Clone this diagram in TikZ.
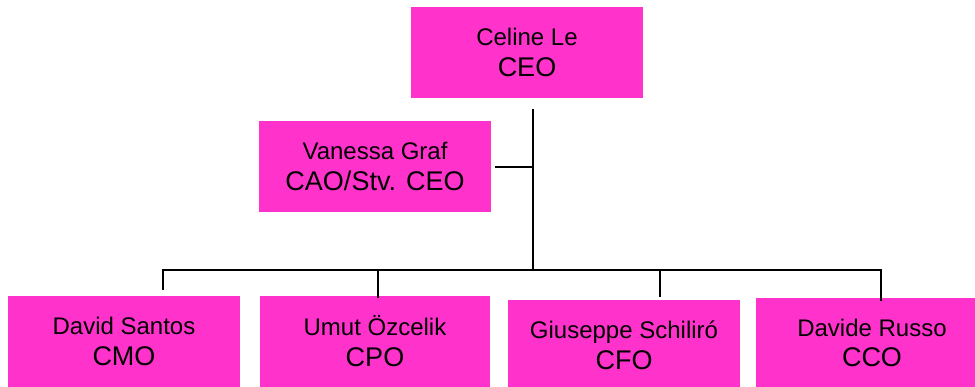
\documentclass[tikz,border=0pt]{standalone}
\usepackage{fontspec}
\setmainfont{Liberation Sans}
\definecolor{boxpink}{HTML}{FF33CC}
\newcommand{\titlefont}{\fontsize{27}{30.6}\selectfont}

\begin{document}
\begin{tikzpicture}[x=1pt,y=-1pt,
  post/.style={fill=boxpink,minimum width=232pt,minimum height=91pt,inner sep=0pt,
    align=center,font=\fontsize{24}{30.6}\selectfont},
  link/.style={line width=2pt}]
\useasboundingbox (0,0) rectangle (975,386);
\node[post] (ceo) at (527,52.5) {Celine Le\\{\titlefont CEO}};
\node[post] (cao) at (375,166.5) {Vanessa Graf\\{\titlefont CAO/Stv. CEO}};
\node[post] (cmo) at (124,341.5) {David Santos\\{\titlefont CMO}};
\node[post,minimum width=230pt] (cpo) at (375,341) {Umut Özcelik\\{\titlefont CPO}};
\node[post] (cfo) at (624,345.5) {Giuseppe Schiliró\\{\titlefont CFO}};
\node[post] (cco) at (872,343) {Davide Russo\\{\titlefont CCO}};
% connectors
\coordinate (ceoStem) at (533,109);
\coordinate (hub) at (533,270);
\coordinate (caoEnd) at (495,167);
\coordinate (barL) at (163,270);
\coordinate (barR) at (881,270);
\coordinate (cmoEnd) at (163,290);
\coordinate (cpoEnd) at (378,298);
\coordinate (cfoEnd) at (660,297);
\coordinate (ccoEnd) at (881,301);
\draw[link] (ceoStem) -- (hub);
\draw[link] (caoEnd) -- (caoEnd -| hub);
\draw[link] (cmoEnd) -- (barL) -- (barR) -- (ccoEnd);
\draw[link] (cpoEnd |- barL) -- (cpoEnd);
\draw[link] (cfoEnd |- barL) -- (cfoEnd);
\end{tikzpicture}
\end{document}
